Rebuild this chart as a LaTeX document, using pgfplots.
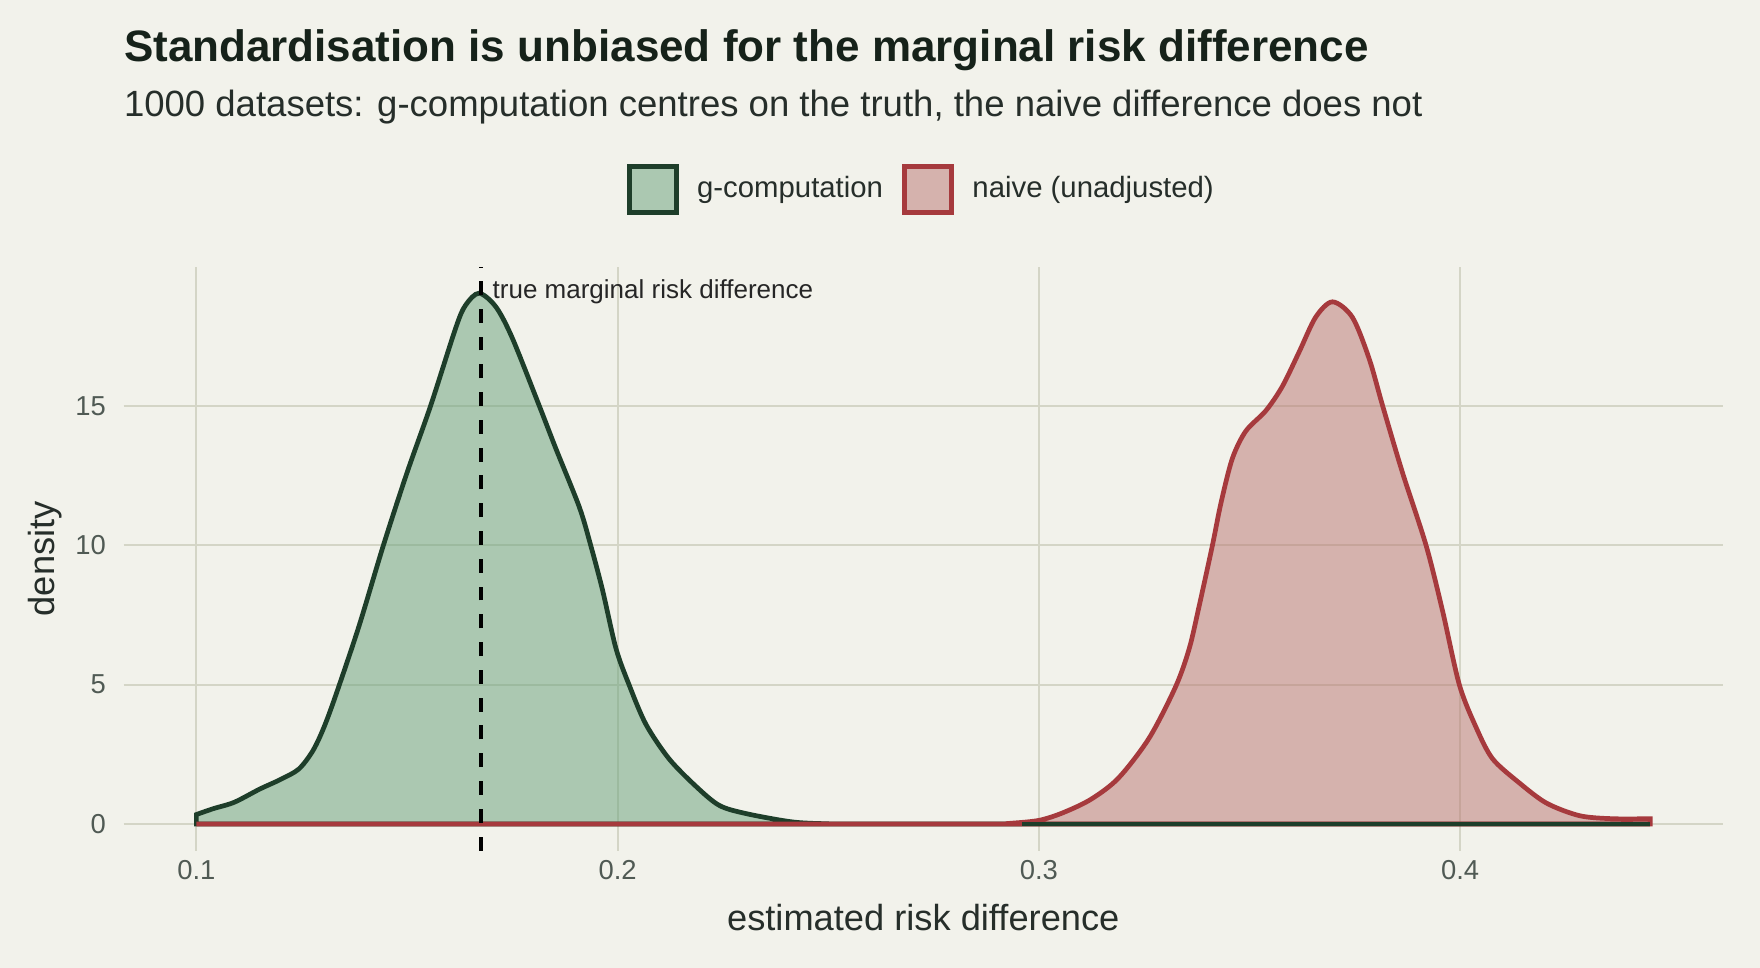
\documentclass[border=0pt]{standalone}
\usepackage{fontspec}
\setmainfont{Liberation Sans}
\usepackage{pgfplots}
\pgfplotsset{compat=1.18}

\definecolor{bg}{RGB}{242,242,235}
\definecolor{gridc}{RGB}{212,213,198}
\definecolor{gline}{RGB}{30,62,42}
\definecolor{gfill}{RGB}{102,160,121}
\definecolor{rline}{RGB}{166,58,61}
\definecolor{rfill}{RGB}{186,116,112}
\definecolor{titlec}{RGB}{22,34,26}
\definecolor{textc}{RGB}{38,46,42}
\definecolor{tickc}{RGB}{80,90,84}

\begin{document}
\begin{tikzpicture}
\fill[bg] (0,0) rectangle (633.6bp,348.48bp);
\useasboundingbox (0,0) rectangle (633.6bp,348.48bp);
\node[anchor=base west, inner sep=0, text=titlec, font=\bfseries\fontsize{15.9}{18}\selectfont] at (44.46bp,326.3bp) {Standardisation is unbiased for the marginal risk difference};
\node[anchor=base west, inner sep=0, text=textc, font=\fontsize{13.2}{15}\selectfont] at (44.46bp,306.7bp) {1000 datasets: g-computation centres on the truth, the naive difference does not};
\begin{axis}[
  at={(44.46bp,42.3bp)}, anchor=south west,
  scale only axis, width=575.82bp, height=210.06bp,
  xmin=0.0827, xmax=0.4624, ymin=-0.95, ymax=19.98,
  xtick={0.1,0.2,0.3,0.4}, ytick={0,5,10,15},
  xticklabels={0.1,0.2,0.3,0.4},
  grid=major, grid style={gridc, line width=0.75bp},
  axis line style={draw=none}, major tick length=0pt,
  /pgf/number format/assume math mode=true,
  ticklabel style={text=tickc, font=\fontsize{9.9}{12}\selectfont},
  yticklabel style={xshift=-2.8bp},
  xlabel={estimated risk difference}, ylabel={density},
  label style={text=textc, font=\fontsize{13.1}{15}\selectfont},
  xlabel style={at={(axis description cs:0.5,-0.1157)}, anchor=center},
  ylabel style={at={(axis description cs:-0.0491,0.5)}, anchor=center, rotate=0},
  legend style={at={(axis description cs:0.5,1.133)}, anchor=center, draw=none, fill=none,
    legend columns=2, font=\fontsize{10.6}{12}\selectfont, text=textc,
    /tikz/every odd column/.append style={column sep=4.6bp},
    /tikz/every even column/.append style={column sep=5bp}},
  legend cell align=left,
  legend image code/.code={\draw[#1, line width=1.8bp] (0bp,-8.4bp) rectangle (16.8bp,8.4bp);},
]
\addplot[draw=gline, line width=1.7bp, fill=gfill, fill opacity=0.5, smooth, tension=0.5] coordinates {
(0.1000,0.34) (0.1040,0.55) (0.1090,0.78) (0.1150,1.25) (0.1200,1.60) (0.1243,1.97)
(0.1275,2.59) (0.1299,3.33) (0.1327,4.45) (0.1385,7.05) (0.1444,10.00)
(0.1500,12.60) (0.1556,15.00) (0.1616,17.81) (0.1639,18.61)
(0.1671,19.04) (0.1711,18.55) (0.1750,17.43) (0.1814,15.00) (0.1853,13.48) (0.1909,11.37)
(0.1936,10.00) (0.1964,8.40) (0.1996,6.30) (0.2027,5.00) (0.2067,3.58) (0.2122,2.34)
(0.2186,1.35) (0.2241,0.67) (0.2303,0.38) (0.2412,0.08) (0.2494,0.01) (0.2600,0)
(0.3500,0) (0.4451,0)
} \closedcycle;
\addlegendentry{g-computation}
\addplot[draw=rline, line width=1.7bp, fill=rfill, fill opacity=0.5, smooth, tension=0.5] coordinates {
(0.1000,0) (0.2000,0) (0.2900,0.00) (0.2928,0.02) (0.3000,0.13) (0.3058,0.41) (0.3124,0.89)
(0.3189,1.65) (0.3262,3.09) (0.3325,4.94) (0.3357,6.30) (0.3380,7.79) (0.3412,10.00)
(0.3432,11.50) (0.3459,13.10) (0.3491,14.09) (0.3539,14.83) (0.3578,15.70) (0.3618,16.94)
(0.3657,18.18) (0.3697,18.73) (0.3744,18.18) (0.3784,16.69) (0.3816,15.00) (0.3863,12.61)
(0.3919,10.00) (0.3958,7.66) (0.3998,5.00) (0.4038,3.46) (0.4077,2.34) (0.4140,1.48)
(0.4205,0.75) (0.4283,0.30) (0.4361,0.19) (0.4451,0.19)
} \closedcycle;
\addlegendentry{naive (unadjusted)}
\addplot[forget plot, draw=gline, line width=1.7bp] coordinates {(0.2960,0) (0.4451,0)};
\addplot[forget plot, draw=black, line width=1.2bp, dash pattern=on 5bp off 5bp] coordinates {(0.1676,-0.95) (0.1676,19.98)};
\node[anchor=west, inner sep=0, text=black!85, font=\fontsize{9.4}{11}\selectfont] at (axis cs:0.1702,19.08) {true marginal risk difference};
\end{axis}
\end{tikzpicture}
\end{document}
